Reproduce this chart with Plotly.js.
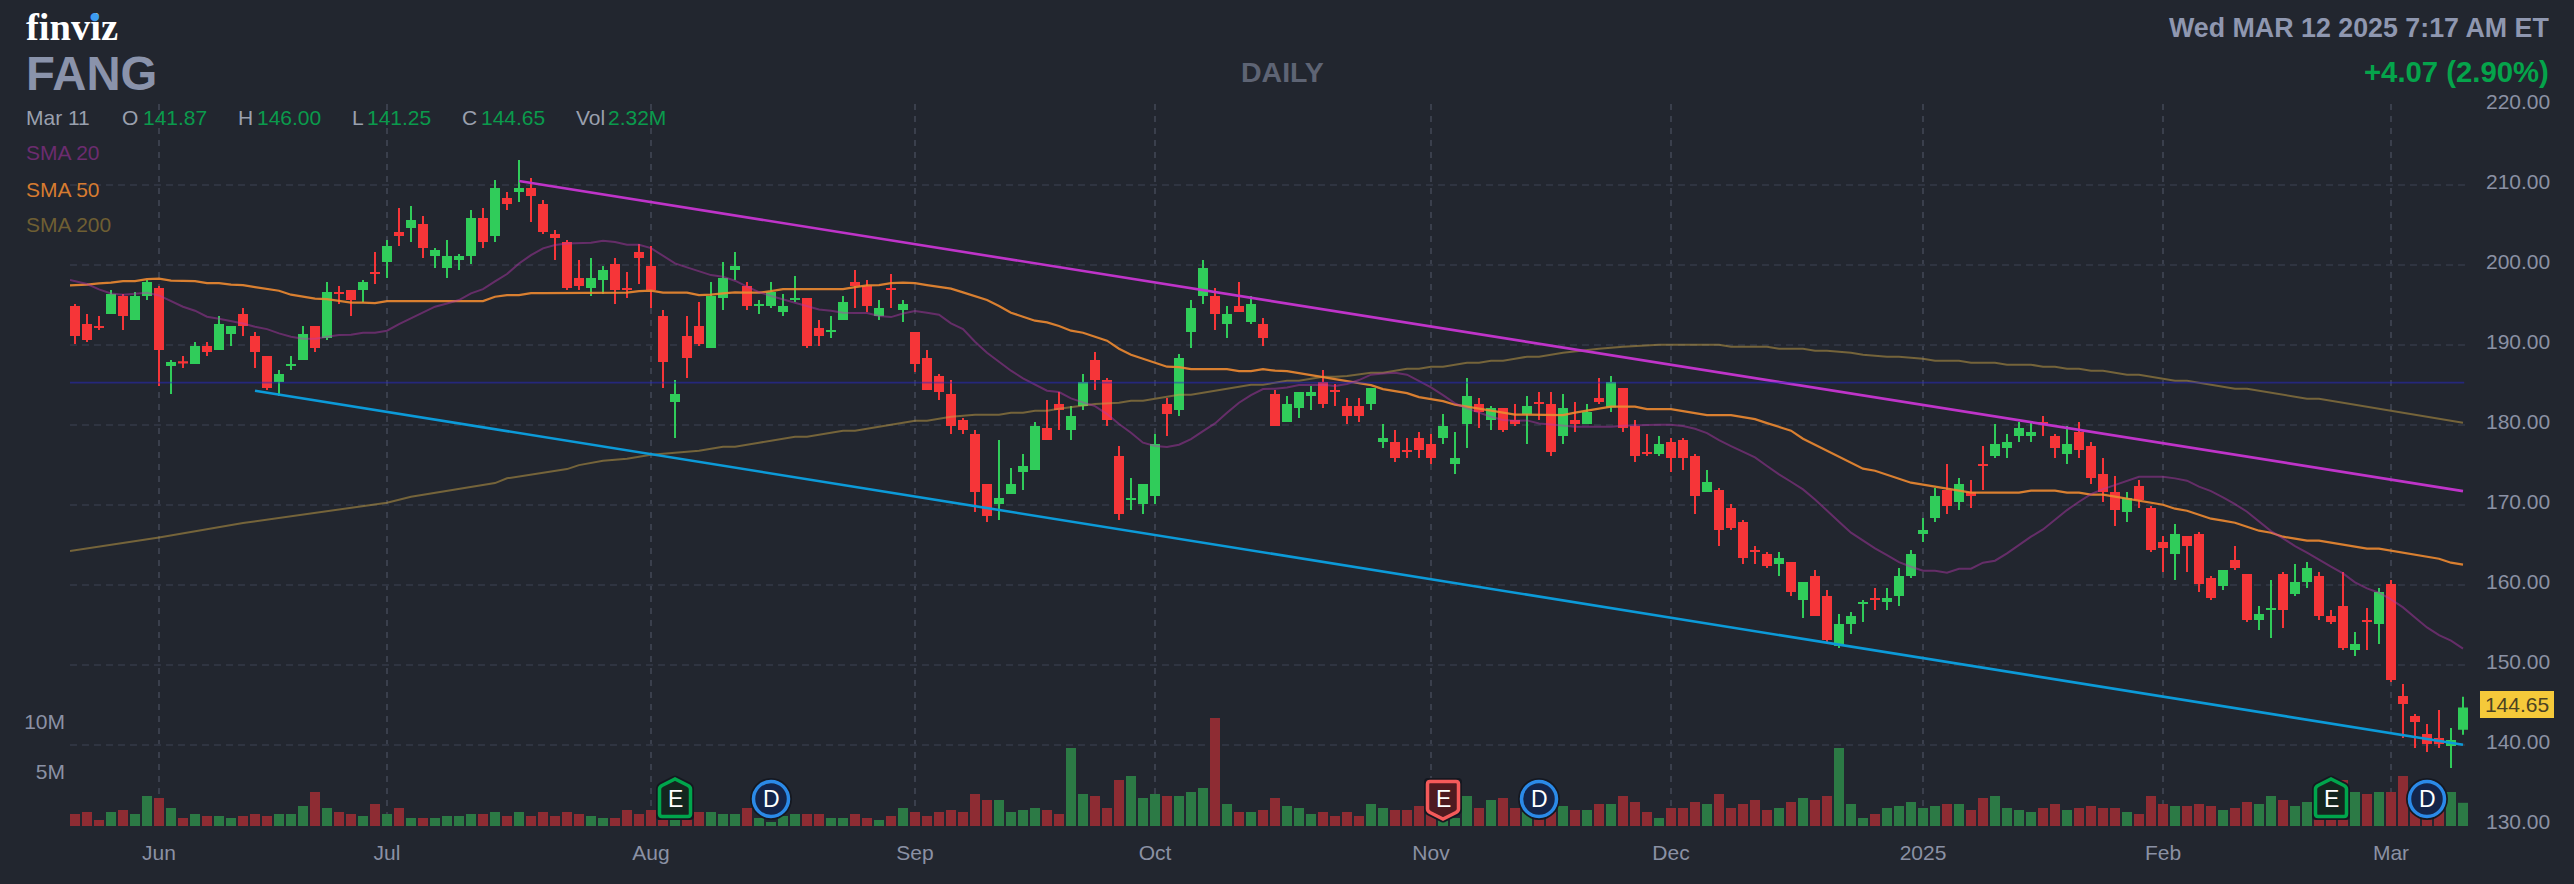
<!DOCTYPE html>
<html><head><meta charset="utf-8">
<script src="https://cdn.plot.ly/plotly-3.0.1.min.js"></script>
<style>html,body{margin:0;padding:0;background:#22262f}#chart{width:2574px;height:884px}</style>
</head><body><div id="chart"></div>
<script>
const opens=[194.83,192.58,192.33,193.83,196.08,193.08,196.08,197.08,187.33,187.92,
187.58,189.83,189.33,191.33,193.83,191.08,188.58,185.33,187.33,188.08,
192.33,190.83,196.58,196.83,196.83,199.08,200.33,204.08,204.58,205.08,
201.08,199.58,200.58,201.08,205.83,203.58,208.33,209.08,209.58,207.58,
203.83,202.83,198.33,197.08,198.08,200.08,197.08,201.58,199.83,193.58,
182.83,191.08,192.33,189.58,195.83,199.33,197.33,194.83,194.83,194.08,
195.58,195.83,192.08,191.58,193.08,197.83,197.33,193.58,197.08,194.33,
191.58,188.33,186.08,183.83,180.58,178.83,172.58,170.08,171.33,174.08,
174.33,179.58,182.58,179.33,182.33,188.08,185.58,176.08,170.58,170.08,
171.08,182.58,181.83,191.58,196.08,196.08,192.58,194.83,192.83,192.58,
183.83,180.33,182.08,183.58,185.33,184.33,182.33,182.33,182.58,177.83,
177.83,176.83,178.33,177.58,178.33,175.08,180.08,182.58,180.58,182.08,
180.58,181.33,182.83,182.58,178.58,180.58,180.08,183.33,182.16,184.58,
179.83,176.58,176.33,177.83,178.08,176.08,171.58,171.83,169.58,167.83,
164.33,163.83,162.58,162.83,158.08,161.08,158.58,152.33,155.08,157.58,
158.33,157.83,158.58,161.08,166.33,168.33,171.83,170.33,171.58,175.08,
176.08,177.08,178.58,178.58,180.33,178.58,176.33,179.08,177.33,173.83,
171.58,169.08,172.33,169.58,165.33,163.83,166.08,166.33,160.83,159.83,
163.08,161.33,155.58,156.83,161.33,158.83,160.33,161.08,156.08,157.33,
151.83,155.58,155.08,160.08,146.08,143.58,141.33,140.83,139.83,141.87];
const highs=[195.08,193.83,193.58,196.83,196.33,196.58,198.08,197.33,188.08,188.58,
190.33,190.33,193.58,192.33,194.58,191.58,188.58,186.83,188.58,192.33,
192.33,197.83,197.33,196.83,198.08,201.58,203.08,207.08,207.33,206.08,
202.08,203.08,201.33,206.83,207.08,210.58,209.08,213.08,210.83,208.08,
204.33,203.08,200.58,200.83,199.83,200.83,199.08,202.58,202.33,194.33,
185.58,193.58,195.33,197.83,200.33,201.58,197.83,195.58,197.83,196.33,
198.58,195.83,193.08,193.58,196.08,199.33,198.08,195.58,198.83,195.58,
191.58,189.33,186.33,185.58,180.83,179.33,172.58,178.08,174.58,176.33,
180.33,183.08,184.08,182.33,186.33,189.08,185.83,177.33,173.33,172.58,
178.83,183.33,188.83,195.58,200.58,197.08,194.83,197.83,196.08,193.33,
184.33,183.58,184.08,184.83,186.83,185.08,183.33,183.33,184.58,180.08,
179.33,178.33,179.08,178.83,181.33,179.08,185.83,183.33,182.33,182.08,
182.58,183.58,184.08,184.08,183.83,182.83,182.58,185.83,186.08,184.58,
180.58,178.83,178.58,178.33,178.33,176.33,174.33,172.08,170.08,168.08,
164.83,164.08,164.08,162.83,160.33,161.83,159.33,156.33,156.58,158.08,
159.58,159.58,162.08,164.33,168.33,172.08,175.08,173.33,173.08,177.33,
180.08,178.83,180.33,180.33,181.08,178.83,179.83,180.33,177.83,175.83,
173.58,171.58,173.08,169.83,166.08,167.58,166.08,166.58,161.08,161.83,
164.83,161.33,157.33,160.58,161.58,162.58,162.83,161.58,156.83,161.58,
154.08,157.08,159.58,160.58,147.58,143.83,142.58,144.33,142.08,146.00];
const lows=[190.08,190.33,191.83,193.83,191.83,193.08,195.58,184.83,183.83,187.08,
187.58,188.58,189.33,189.83,191.08,187.08,184.33,183.58,186.83,188.08,
189.08,190.58,195.08,193.58,195.33,197.58,198.33,202.33,202.83,200.83,
199.58,198.33,199.33,200.08,202.08,202.83,206.83,207.83,205.33,203.83,
200.58,196.83,196.83,196.08,196.33,195.08,195.83,197.58,194.58,184.58,
178.33,185.83,189.83,189.58,194.33,198.08,194.33,193.83,194.58,193.58,
195.33,189.58,189.83,190.83,193.08,194.58,194.08,193.08,194.58,192.83,
186.58,184.33,183.08,178.83,178.83,169.08,167.83,168.08,171.33,171.83,
174.33,178.08,179.33,178.08,181.83,184.33,179.83,168.08,169.33,168.83,
170.08,178.58,181.08,189.58,195.08,191.83,190.83,194.08,192.58,189.83,
179.83,180.33,180.83,181.83,182.08,182.33,180.08,180.33,181.83,177.08,
175.33,175.83,175.83,175.08,177.58,173.83,177.08,179.58,179.33,179.08,
179.83,177.58,180.58,176.08,177.58,179.08,180.08,182.58,181.58,179.08,
175.33,176.08,176.08,174.08,174.33,168.83,171.58,164.83,166.83,162.58,
162.58,162.08,161.08,158.58,155.83,156.08,152.83,152.08,153.83,155.33,
156.83,156.83,157.33,160.83,165.33,167.83,168.83,169.33,169.58,171.83,
175.83,175.83,177.83,177.83,178.58,175.83,175.08,175.83,172.58,170.33,
167.33,167.83,169.58,164.08,161.58,160.58,161.58,159.08,158.08,159.33,
161.83,155.33,154.33,153.33,154.58,158.58,159.58,155.58,155.08,151.83,
151.08,151.83,152.58,147.83,140.83,139.58,139.08,139.58,137.08,141.25];
const closes=[191.08,190.58,192.08,196.33,193.58,196.08,197.83,189.33,187.83,187.66,
189.83,189.08,192.58,192.33,192.33,189.08,184.58,186.33,187.58,191.33,
189.58,196.58,196.33,195.58,197.83,198.83,202.33,203.58,205.58,202.08,
201.83,201.08,201.08,205.83,202.83,209.58,207.58,209.58,208.58,204.08,
203.33,197.08,197.33,198.33,199.33,196.83,196.83,200.83,196.83,187.83,
183.83,188.33,190.08,196.08,198.33,199.83,194.83,195.08,196.58,194.83,
195.83,189.83,191.08,191.83,195.33,197.33,194.83,194.58,196.83,195.08,
187.58,184.33,184.08,179.83,179.33,171.58,168.58,170.83,172.58,174.83,
179.83,178.08,181.83,181.08,185.33,185.58,180.58,168.83,170.83,172.58,
177.58,181.33,188.33,194.58,199.58,193.83,193.83,194.08,195.08,190.83,
179.83,182.58,184.08,184.08,182.58,184.08,181.08,181.08,184.58,178.33,
175.83,176.58,176.83,175.83,179.83,175.83,183.58,181.58,182.08,179.33,
180.08,182.33,182.58,176.58,182.08,180.08,181.58,182.83,185.33,179.58,
176.08,176.33,177.58,175.83,175.83,171.08,172.83,166.83,167.08,163.33,
164.08,162.33,163.33,159.08,160.33,156.08,153.08,155.08,156.08,157.83,
158.08,158.33,161.08,163.83,166.83,171.08,169.83,172.58,171.08,174.83,
177.58,177.83,179.58,179.08,180.08,177.08,177.58,176.83,173.33,171.58,
169.33,170.83,170.58,164.33,164.58,166.33,164.83,160.08,158.33,161.83,
162.08,155.58,156.33,157.08,156.83,160.33,162.08,156.08,155.33,152.08,
152.58,155.33,159.08,148.08,145.08,142.83,140.08,140.08,140.58,144.65];
const volumesM=[1.2,1.4,0.6,1.4,1.6,1.2,3.0,2.8,1.8,0.8,
1.2,1.0,1.0,0.8,1.0,1.2,1.0,1.2,1.2,2.0,
3.4,1.8,1.4,1.2,1.0,2.2,1.2,1.8,0.8,0.8,
0.8,1.0,1.0,1.2,1.2,1.4,1.0,1.4,1.0,1.4,
1.0,1.4,1.2,1.0,0.8,0.8,1.6,1.2,1.6,0.6,
0.6,0.8,1.4,1.4,1.2,1.2,1.8,0.8,0.4,1.0,
1.2,1.2,1.2,0.8,0.8,1.2,0.8,0.6,1.0,1.8,
1.4,1.0,1.4,1.6,1.4,3.2,2.6,2.6,1.4,1.6,
1.8,1.6,1.2,7.8,3.2,3.0,1.8,4.6,5.0,2.8,
3.2,3.0,3.0,3.4,3.8,10.8,2.2,1.4,1.4,1.6,
2.8,2.0,1.8,1.2,1.4,1.0,1.4,1.0,2.2,1.8,
1.6,1.6,2.0,1.2,0.8,0.8,3.0,1.8,2.6,2.8,
1.8,1.4,1.0,1.4,2.0,1.6,1.6,2.2,2.2,3.0,
2.4,1.4,0.8,1.8,1.8,2.4,2.2,3.2,1.8,2.2,
2.6,1.6,1.8,2.4,2.8,2.6,3.0,7.8,2.2,0.8,
1.2,1.8,2.0,2.4,1.8,2.0,2.2,2.2,1.6,2.8,
3.0,1.8,1.6,1.4,1.8,2.2,1.6,1.8,2.0,1.8,
1.8,1.4,1.2,3.0,2.2,2.0,2.0,2.2,2.0,1.6,
1.8,2.4,2.2,3.0,2.6,2.0,2.4,2.2,2.2,4.6,
3.4,3.2,3.4,3.4,5.0,3.8,2.8,3.4,3.4,2.32];
const sma20=[198.08,197.58,196.91,196.41,196.25,196.41,196.5,196.16,195.5,194.75,
194.25,193.5,193.25,193.0,192.66,192.25,191.95,191.41,191.0,190.75,
190.75,191.0,191.2,191.25,191.5,191.5,191.75,192.58,193.29,194.04,
194.75,195.16,195.58,196.41,196.95,197.91,198.83,200.16,201.2,202.04,
202.45,202.66,202.75,202.75,203.0,202.83,202.5,202.5,202.08,201.16,
200.16,199.66,199.16,198.7,198.5,198.0,197.25,196.58,196.08,195.66,
195.25,194.75,194.41,194.25,194.0,193.95,193.95,193.58,193.45,193.91,
194.2,194.0,193.75,192.66,191.95,190.37,189.0,187.87,186.75,185.79,
185.04,184.25,184.08,183.29,182.79,182.33,181.33,180.08,179.0,177.75,
177.33,177.2,177.5,178.2,179.2,180.16,181.5,182.75,183.7,184.45,
184.5,184.66,184.95,185.0,185.0,184.83,185.08,185.58,186.25,186.41,
186.5,186.25,185.41,184.66,183.7,182.66,182.04,181.5,181.0,180.58,
180.5,180.54,180.16,180.04,179.87,179.75,179.75,179.75,179.75,179.87,
179.95,179.95,180.0,180.0,179.83,179.5,178.95,178.08,177.33,176.62,
175.91,174.83,173.79,172.87,171.91,170.66,169.2,167.87,166.5,165.5,
164.54,163.7,162.83,162.25,161.75,161.75,161.5,162.0,162.0,162.75,
163.0,163.91,164.95,166.0,166.91,168.08,169.33,170.37,171.33,171.95,
172.45,173.0,173.5,173.5,173.5,173.29,173.0,172.25,171.7,170.91,
170.08,169.12,167.87,166.7,165.79,164.83,164.0,163.08,162.25,161.41,
160.29,159.54,159.0,158.16,157.16,155.91,154.66,153.7,153.0,152.0];
const sma50=[197.41,197.5,197.66,197.75,197.95,197.95,198.2,198.25,198.0,197.95,
197.95,197.7,197.7,197.5,197.45,197.2,197.0,196.75,196.25,196.0,
195.75,195.7,195.45,195.25,195.25,195.2,195.45,195.45,195.45,195.45,
195.45,195.45,195.45,195.45,195.45,196.0,196.2,196.2,196.45,196.45,
196.45,196.5,196.5,196.5,196.5,196.5,196.5,196.7,196.75,196.5,
196.5,196.5,196.2,196.25,196.41,196.54,196.5,196.5,196.7,196.95,
196.95,196.95,196.95,196.95,196.95,197.2,197.41,197.45,197.7,197.75,
197.7,197.45,197.2,197.0,196.54,196.08,195.58,194.83,194.0,193.5,
193.0,192.79,192.33,191.75,191.5,191.0,190.5,189.5,188.75,188.25,
187.75,187.25,187.2,186.95,186.95,186.95,186.95,186.7,186.7,186.95,
186.75,186.7,186.45,186.2,185.95,185.66,185.41,185.2,184.95,184.45,
184.2,183.95,183.45,183.2,182.95,182.5,182.25,181.95,181.7,181.45,
181.25,181.25,181.25,181.2,181.2,181.5,181.75,182.0,182.25,182.25,
182.25,181.95,181.95,181.95,181.7,181.45,181.2,181.2,181.2,180.95,
180.7,180.2,179.75,179.25,178.25,177.5,176.75,176.0,175.25,174.5,
174.25,173.75,173.25,172.75,172.5,172.25,172.0,171.75,171.5,171.5,
171.5,171.5,171.5,171.75,171.75,171.75,171.5,171.5,171.25,171.25,
171.0,170.75,170.5,170.25,170.0,169.5,169.25,168.75,168.25,168.0,
167.75,167.25,166.75,166.5,166.0,165.75,165.5,165.5,165.25,165.0,
164.75,164.5,164.5,164.25,164.0,163.75,163.5,163.25,162.75,162.5];
const sma200Days=[0,7,14,20,26,28,35,36,41,42,44,46,48,50,52,54,55,57,59,60,61,63,64,65,67,69,70,71,73,75,77,78,79,80,81,82,84,85,87,88,89,91,92,93,95,97,98,99,101,102,104,105,106,108,109,111,112,113,114,116,117,118,119,120,121,122,123,124,127,129,132,137,138,141,142,144,145,146,148,149,151,152,154,155,157,158,160,161,163,164,165,166,167,168,169,171,172,175,176,180,181,186,187,199];
const sma200=[164.2,165.9,167.7,169.0,170.25,171.0,172.7,173.3,174.45,174.95,175.5,175.75,176.25,176.5,176.75,177.25,177.25,177.75,178.25,178.5,178.5,179.0,179.25,179.25,179.75,180.25,180.5,180.5,181.0,181.25,181.25,181.5,181.5,181.75,181.75,182.0,182.33,182.58,182.75,183.0,183.0,183.5,183.75,183.75,184.25,184.75,185.0,185.0,185.5,185.5,186.0,186.0,186.08,186.5,186.5,187.0,187.0,187.25,187.25,187.75,187.75,188.0,188.0,188.25,188.5,188.5,188.75,189.0,189.5,189.75,190.0,190.0,189.75,189.75,189.5,189.5,189.25,189.25,189.0,188.75,188.5,188.5,188.25,188.0,188.0,187.75,187.75,187.5,187.5,187.25,187.25,187.0,187.0,186.75,186.75,186.25,186.25,185.5,185.5,184.5,184.5,183.25,183.25,180.25];
const upperTrend={days:[37,199],prices:[210.46,171.7]};
const lowerTrend={days:[15,199],prices:[184.25,140.0]};
const levelPrice=185.25;
const monthStarts=[7,26,48,70,90,113,133,154,174,193];
const monthLabels=['Jun','Jul','Aug','Sep','Oct','Nov','Dec','2025','Feb','Mar'];
const priceTicks=[130,140,150,160,170,180,190,200,210,220];
const volumeTicks=[5,10];
const volumeTickLabels=['5M','10M'];
const earningsBeat=[50,188];
const earningsMiss=[114];
const dividends=[58,122,196];

// page geometry
const W=2574,H=884,L=70,T=104,PW=2400,PH=722;
const GREEN='#30cc5a',RED='#f63538',BG='#22262f';
const FONT='"Liberation Sans",Arial,sans-serif';
const days=opens.map((_,i)=>i);
const lineDays=days.map(d=>d===0?-0.42:d);
const px=x=>(x-L)/PW, py=y=>(T+PH-y)/PH;

// candle outlines are 2px: pull the body ends in by half a stroke
const HALF=0.125;
const bodyO=[],bodyC=[];
opens.forEach((o,i)=>{
  const c=closes[i],s=c>=o?1:-1,mid=(o+c)/2;
  if(Math.abs(c-o)<=2*HALF+0.002){bodyO.push(mid-s*0.001);bodyC.push(mid+s*0.001);}
  else{bodyO.push(o+s*HALF);bodyC.push(c-s*HALF);}
});

const traces=[
 {type:'bar',x:days,y:volumesM,yaxis:'y',xaxis:'x',
  marker:{color:opens.map((o,i)=>closes[i]>=o?'#2c7a45':'#8e2c33'),line:{width:0}},hoverinfo:'skip'},
 {type:'candlestick',x:days,open:bodyO,high:highs,low:lows,close:bodyC,yaxis:'y2',xaxis:'x',whiskerwidth:0,
  increasing:{line:{color:GREEN,width:2},fillcolor:GREEN},
  decreasing:{line:{color:RED,width:2},fillcolor:RED},hoverinfo:'skip'},
 {type:'scatter',mode:'lines',x:sma200Days.map(d=>d===0?-0.42:d),y:sma200,yaxis:'y2',line:{color:'rgba(200,162,69,0.5)',width:2},hoverinfo:'skip'},
 {type:'scatter',mode:'lines',x:lineDays,y:sma50,yaxis:'y2',line:{color:'rgba(237,137,49,0.9)',width:2.2},hoverinfo:'skip'},
 {type:'scatter',mode:'lines',x:lineDays,y:sma20,yaxis:'y2',line:{color:'rgba(184,56,175,0.45)',width:2},hoverinfo:'skip'},
 {type:'scatter',mode:'lines',x:upperTrend.days,y:upperTrend.prices,yaxis:'y2',line:{color:'#bf34c9',width:2.6},hoverinfo:'skip'},
 {type:'scatter',mode:'lines',x:lowerTrend.days,y:lowerTrend.prices,yaxis:'y2',line:{color:'#0c9ad8',width:2.6},hoverinfo:'skip'},
 {type:'scatter',mode:'lines',x:[-0.42,199.1],y:[levelPrice,levelPrice],yaxis:'y2',line:{color:'rgba(40,40,200,0.5)',width:1.75},hoverinfo:'skip'}
];

const shapes=[];
const BADGE_Y=2.7;
function badge(day,path){
  shapes.push({type:'path',xref:'x',yref:'y',xsizemode:'pixel',ysizemode:'pixel',xanchor:day,yanchor:BADGE_Y,path,
    fillcolor:'#151820',line:{width:0},layer:'above'});
}
const upPath='M-19,11 L-19,-17 Q-19,-21 -15,-21 L15,-21 Q19,-21 19,-17 L19,11 Q19,14 16,16 L2,23 Q0,24 -2,23 L-16,16 Q-19,14 -19,11 Z';
const upInner='M-15.5,10 L-15.5,-15 Q-15.5,-17.5 -13,-17.5 L13,-17.5 Q15.5,-17.5 15.5,-15 L15.5,10 Q15.5,12 13,13.5 L0,20 L-13,13.5 Q-15.5,12 -15.5,10 Z';
const downPath='M-19,-11 L-19,17 Q-19,21 -15,21 L15,21 Q19,21 19,17 L19,-11 Q19,-14 16,-16 L2,-23 Q0,-24 -2,-23 L-16,-16 Q-19,-14 -19,-11 Z';
const downInner='M-15.5,-10 L-15.5,15 Q-15.5,17.5 -13,17.5 L13,17.5 Q15.5,17.5 15.5,15 L15.5,-10 Q15.5,-12 13,-13.5 L0,-20 L-13,-13.5 Q-15.5,-12 -15.5,-10 Z';
const letters=[];
earningsBeat.forEach(d=>{
  badge(d,upPath);
  shapes.push({type:'path',xref:'x',yref:'y',xsizemode:'pixel',ysizemode:'pixel',xanchor:d,yanchor:BADGE_Y,path:upInner,fillcolor:'#14261f',line:{color:'#00a64c',width:3.5},layer:'above'});
  letters.push({x:d,y:BADGE_Y,text:'E'});
});
earningsMiss.forEach(d=>{
  badge(d,downPath);
  shapes.push({type:'path',xref:'x',yref:'y',xsizemode:'pixel',ysizemode:'pixel',xanchor:d,yanchor:BADGE_Y,path:downInner,fillcolor:'#4f1a20',line:{color:'#f55a5a',width:3.5},layer:'above'});
  letters.push({x:d,y:BADGE_Y,text:'E'});
});
dividends.forEach(d=>{
  shapes.push({type:'circle',xref:'x',yref:'y',xsizemode:'pixel',ysizemode:'pixel',xanchor:d,yanchor:BADGE_Y,x0:-21,x1:21,y0:-21,y1:21,fillcolor:'#151820',line:{width:0},layer:'above'});
  shapes.push({type:'circle',xref:'x',yref:'y',xsizemode:'pixel',ysizemode:'pixel',xanchor:d,yanchor:BADGE_Y,x0:-17.5,x1:17.5,y0:-17.5,y1:17.5,fillcolor:'#14254a',line:{color:'#2b8ae8',width:3.5},layer:'above'});
  letters.push({x:d,y:BADGE_Y,text:'D'});
});

function label(text,x,y,size,color,anchor,bold,family){
  return {text:bold?'<b>'+text+'</b>':text,xref:'paper',yref:'paper',x:px(x),y:py(y),xanchor:anchor||'left',yanchor:'middle',
    showarrow:false,font:{size,color,family:family||FONT},borderpad:0,borderwidth:0};
}
const annotations=[
 label('finviz',26,27,38.5,'#ffffff','left',true,'"Liberation Serif",serif'),
 label('●',95,16,11,'#3d9bf0','center',false,'"DejaVu Sans",sans-serif'),
 label('FANG',26,74,47.3,'#8a93ab','left',true),
 label('DAILY',1282,72,28.5,'#5e6474','center',true),
 label('Wed MAR 12 2025 7:17 AM ET',2549,28,26.8,'#8f97b0','right',true),
 label('+4.07 (2.90%)',2549,72,29.3,'#05a44b','right',true),
 label('Mar 11',26,117,21,'#9aa0ae'),
 label('O',122,117,21,'#9aa0ae'),label('141.87',143,117,21,'#0a9a4c'),
 label('H',238,117,21,'#9aa0ae'),label('146.00',257,117,21,'#0a9a4c'),
 label('L',352,117,21,'#9aa0ae'),label('141.25',367,117,21,'#0a9a4c'),
 label('C',462,117,21,'#9aa0ae'),label('144.65',481,117,21,'#0a9a4c'),
 label('Vol',576,117,21,'#9aa0ae'),label('2.32M',608,117,21,'#0a9a4c'),
 label('SMA 20',26,152,21,'#6c2c6f'),
 label('SMA 50',26,189,21,'#d67b30'),
 label('SMA 200',26,225,21,'#6f5f33'),
 {text:'144.65',xref:'paper',yref:'y2',x:px(2517),y:closes[closes.length-1],yshift:3.5,xanchor:'center',yanchor:'middle',showarrow:false,
  font:{size:21,color:'#4b4223',family:FONT},bgcolor:'#f5c93a',bordercolor:'#f5c93a',borderpad:1,width:70,height:23},
 ...letters.map(l=>({text:l.text,xref:'x',yref:'y',x:l.x,y:l.y,xanchor:'center',yanchor:'middle',showarrow:false,
   font:{size:23,color:'#ffffff',family:FONT}}))
];

const layout={
 width:W,height:H,paper_bgcolor:BG,plot_bgcolor:BG,showlegend:false,
 margin:{l:L,t:T,r:W-L-PW,b:H-T-PH,pad:0,autoexpand:false},
 bargap:1/6,boxgap:1/3,boxgroupgap:0,hovermode:false,dragmode:false,
 xaxis:{range:[-0.41667,199.5833],type:'linear',rangeslider:{visible:false},tickmode:'array',tickvals:monthStarts,ticktext:monthLabels,
  showgrid:true,gridcolor:'#3a3f4c',griddash:'6px,6px',gridwidth:2,zeroline:false,showline:false,ticks:'',ticklabelstandoff:12,
  tickfont:{size:21,color:'#8b91a4',family:FONT}},
 yaxis:{range:[0,72.2],side:'left',tickmode:'array',tickvals:volumeTicks,ticktext:volumeTickLabels,showgrid:false,zeroline:false,showline:false,ticks:'',
  ticklabelstandoff:4,ticklabelshift:-4,tickfont:{size:21,color:'#8b91a4',family:FONT}},
 yaxis2:{range:[129.8375,220.0875],side:'right',overlaying:'y',tickmode:'array',tickvals:priceTicks,ticktext:priceTicks.map(v=>v.toFixed(2)),
  showgrid:true,gridcolor:'#2f3441',griddash:'7px,5px',gridwidth:2,zeroline:false,showline:false,ticks:'',
  ticklabelstandoff:15,ticklabelshift:-3,tickfont:{size:21,color:'#8b91a4',family:FONT}},
 shapes,annotations
};
Plotly.newPlot('chart',traces,layout,{displayModeBar:false,staticPlot:true,responsive:false});
</script></body></html>
